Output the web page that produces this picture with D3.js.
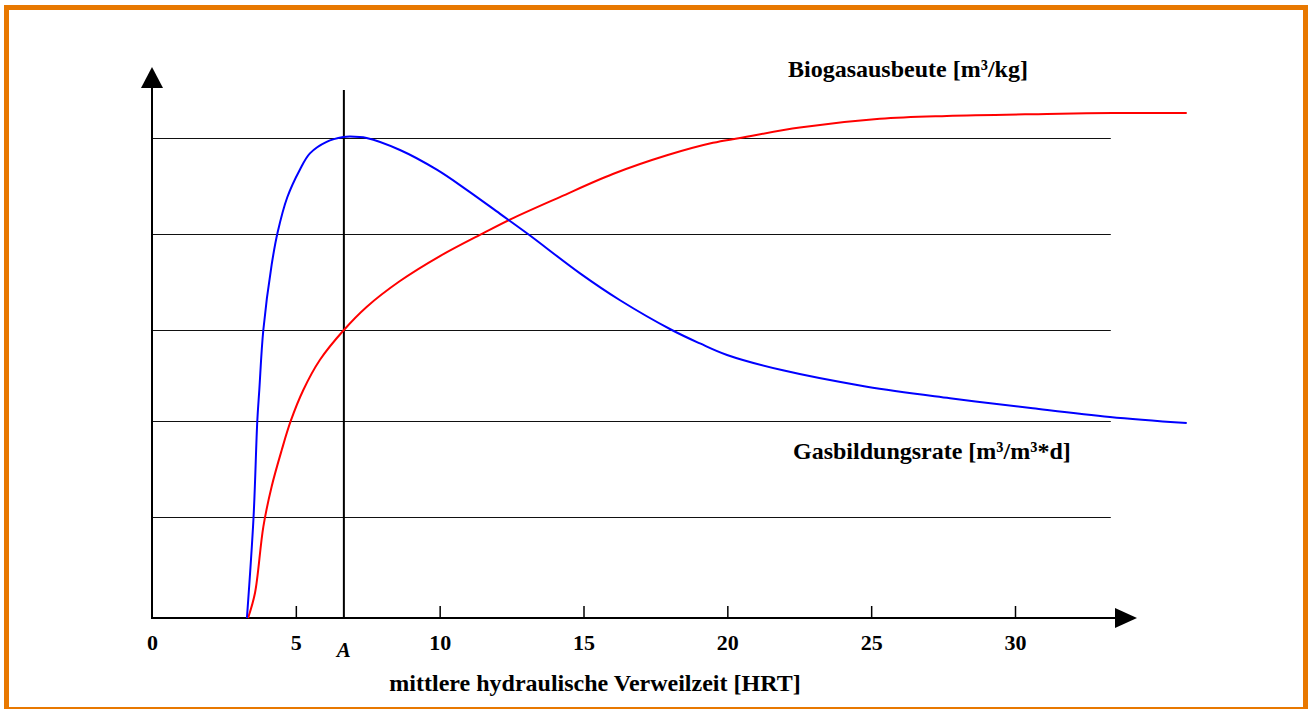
<!DOCTYPE html>
<html>
<head>
<meta charset="utf-8">
<script src="https://cdn.jsdelivr.net/npm/d3@7"></script>
<style>
  body { margin: 0; background: #fff; }
  text { font-family: "Liberation Serif", "Times New Roman", serif; font-weight: bold; fill: #000; }
</style>
</head>
<body>
<div id="chart"></div>
<script>
// x ticks (HRT in days)
const xTicks = [0, 5, 10, 15, 20, 25, 30];
// horizontal reference lines (relative units)
const gridValues = [1.05, 2.05, 3, 4, 5];
// point A on the HRT axis
const pointA = 6.67;

// Gasbildungsrate (blue)
const rateHrt = [3.30, 3.53, 3.66, 3.73, 3.87, 4.16, 4.37, 4.70, 5.14, 5.49, 6.07, 6.65, 6.88, 7.46, 8.62, 9.90, 10.94, 12.10, 13.07, 14.88, 16.27, 18.07, 19.05, 19.99, 21.93, 24.85, 27.74, 30.62, 33.30, 35.97];
const rateValues = [0, 1.05, 2.05, 2.375, 3.0, 3.68, 4.02, 4.38, 4.67, 4.84, 4.96, 5.01, 5.015, 5.0, 4.875, 4.67, 4.46, 4.21, 4.0, 3.59, 3.31, 3.0, 2.86, 2.74, 2.58, 2.41, 2.29, 2.185, 2.095, 2.03];

// Biogasausbeute (red)
const yieldHrt = [3.34, 3.58, 3.87, 4.16, 4.51, 4.82, 5.26, 5.84, 6.67, 7.46, 8.62, 10.01, 11.52, 12.44, 14.18, 16.02, 17.90, 19.50, 20.44, 22.52, 25.30, 27.63, 31.11, 33.40, 35.97];
const yieldValues = [0, 0.26, 0.95, 1.37, 1.75, 2.05, 2.375, 2.69, 3.0, 3.24, 3.51, 3.77, 4.01, 4.15, 4.385, 4.625, 4.82, 4.95, 5.0, 5.11, 5.20, 5.23, 5.25, 5.26, 5.26];

const W = 1308, H = 709;

const svg = d3.select("#chart")
  .append("svg")
  .attr("width", W)
  .attr("height", H);

svg.append("rect").attr("width", W).attr("height", H).style("fill", "#fff");

// orange frame
svg.append("rect")
  .attr("x", 6.5).attr("y", 7.5)
  .attr("width", 1299).attr("height", 702)
  .style("fill", "none")
  .style("stroke", "#e87800")
  .style("stroke-width", 5);

// scales
const x = d3.scaleLinear().domain([0, 30]).range([152, 1015]);
const y = d3.scaleLinear().domain([0, 5]).range([618, 138]);

// grid lines
svg.append("g")
  .selectAll("line")
  .data(gridValues)
  .join("line")
  .attr("x1", x(0)).attr("x2", x(33.33))
  .attr("y1", d => Math.round(y(d)) + 0.5)
  .attr("y2", d => Math.round(y(d)) + 0.5)
  .style("stroke", "#111")
  .style("stroke-width", 1.2);

// vertical line at A
svg.append("line")
  .attr("x1", x(pointA)).attr("x2", x(pointA))
  .attr("y1", 90).attr("y2", y(0))
  .style("stroke", "#000")
  .style("stroke-width", 2);

// x axis with ticks
const xAxis = svg.append("g")
  .attr("transform", `translate(0,${y(0)})`)
  .call(d3.axisBottom(x).tickValues(xTicks).tickSize(-12).tickPadding(16).tickFormat(d3.format("d")));

xAxis.select(".domain").remove();
xAxis.selectAll(".tick line").style("stroke", "#000").style("stroke-width", 1.5)
  .filter(d => d === 0).remove();
xAxis.selectAll(".tick text")
  .style("font-family", "'Liberation Serif', serif")
  .style("font-weight", "bold")
  .style("font-size", "22px")
  .style("fill", "#000");

// axis lines with arrow heads
svg.append("line")
  .attr("x1", x(0) - 1).attr("x2", 1118)
  .attr("y1", y(0)).attr("y2", y(0))
  .style("stroke", "#000").style("stroke-width", 2);
svg.append("path")
  .attr("d", `M1115,${y(0) - 10}L1137,${y(0)}L1115,${y(0) + 10}Z`)
  .style("fill", "#000");

svg.append("line")
  .attr("x1", x(0)).attr("x2", x(0))
  .attr("y1", y(0) + 1).attr("y2", 86)
  .style("stroke", "#000").style("stroke-width", 2);
svg.append("path")
  .attr("d", `M${x(0) - 11},88L${x(0)},67L${x(0) + 11},88Z`)
  .style("fill", "#000");

// curves
const line = d3.line()
  .x(d => x(d[0]))
  .y(d => y(d[1]))
  .curve(d3.curveCatmullRom.alpha(0.5));

svg.append("path")
  .datum(yieldHrt.map((h, i) => [h, yieldValues[i]]))
  .attr("d", line)
  .style("fill", "none")
  .style("stroke", "#ff0000")
  .style("stroke-width", 2);

svg.append("path")
  .datum(rateHrt.map((h, i) => [h, rateValues[i]]))
  .attr("d", line)
  .style("fill", "none")
  .style("stroke", "#0000ff")
  .style("stroke-width", 2);

// labels
svg.append("text")
  .attr("x", x(pointA))
  .attr("y", 657)
  .style("text-anchor", "middle")
  .style("font-style", "italic")
  .style("font-size", "21px")
  .text("A");

svg.append("text")
  .attr("x", 788)
  .attr("y", 77)
  .style("font-size", "24px")
  .text("Biogasausbeute [m³/kg]");

svg.append("text")
  .attr("x", 793)
  .attr("y", 459)
  .style("font-size", "24px")
  .text("Gasbildungsrate [m³/m³*d]");

svg.append("text")
  .attr("x", 595)
  .attr("y", 691)
  .style("text-anchor", "middle")
  .style("font-size", "24px")
  .text("mittlere hydraulische Verweilzeit [HRT]");
</script>
</body>
</html>
